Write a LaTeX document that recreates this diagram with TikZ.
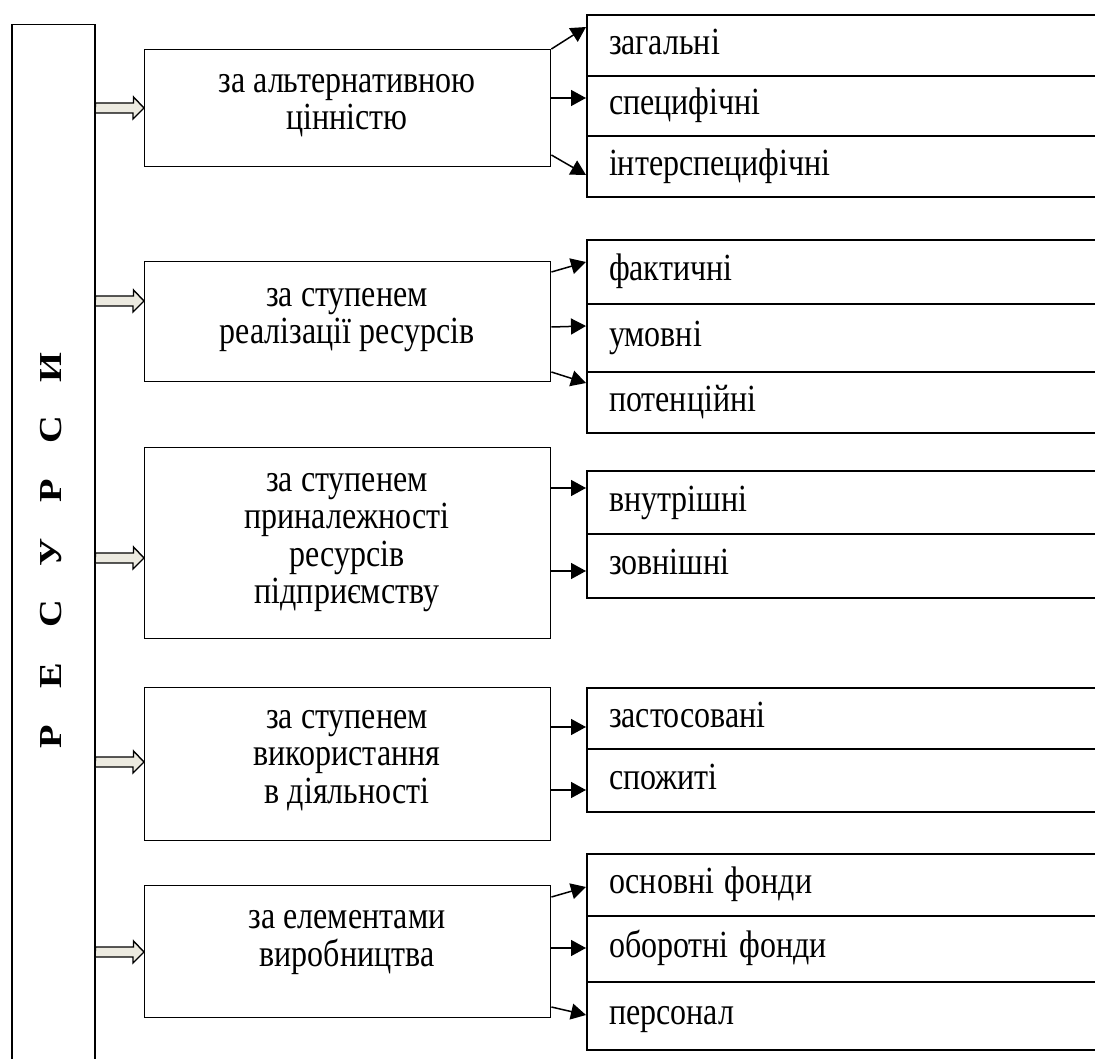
\documentclass[tikz,border=0pt]{standalone}
\usepackage{fontspec}
\usepackage{graphicx}
\setmainfont{Liberation Serif}
\usetikzlibrary{arrows.meta,calc}
\definecolor{arrfill}{RGB}{236,234,224}
\newcommand\hollowarrow[2]{%
  \draw[hollowarr] ($(res.east |- 0,#1)+(0,-5)$) -- ++(38,0) -- ++(0,-6)
    -- (#2.west |- 0,#1) -- ++(-11,11) -- ++(0,-6) -- ++(-38,0) -- cycle;}
\newcommand\tallt[1]{\scalebox{1}[1.2]{#1}}
\newcommand\tallblock[1]{\scalebox{1}[1.2]{\begin{tabular}{@{}c@{}}#1\end{tabular}}}
\newcommand\vlet[1]{\makebox[61.5pt]{\scalebox{1.2}[1]{#1}}}
\begin{document}
\begin{tikzpicture}[x=1pt,y=-1pt,
  mbox/.style={draw, line width=1.4pt, anchor=north west, minimum width=406pt, inner sep=0pt},
  mtext/.style={inner sep=0pt, font=\fontsize{32}{31}\selectfont},
  rbox/.style={draw, line width=2pt, anchor=north west, text width=476pt, inner xsep=22pt,
    inner ysep=0pt, align=left, text height=26pt, text depth=8.5pt, font=\fontsize{32}{37}\selectfont},
  blk/.style={line width=1.5pt, -{Triangle[length=15pt,width=16pt]}},
  hollowarr/.style={draw, line width=1.4pt, fill=arrfill, line join=miter},
]
\useasboundingbox (0,0) rectangle (1095,1059);

% left column
\node[draw, line width=1.5pt, anchor=north west, minimum width=83pt, minimum height=1100pt, inner sep=0pt] (res) at (11,24) {};
\node[rotate=90, font=\fontsize{32}{36}\selectfont\bfseries, inner sep=0pt] (reslabel) at (51.5,552.5)
  {\vlet{Р}\vlet{Е}\vlet{С}\vlet{У}\vlet{Р}\vlet{С}\vlet{И}};

% middle boxes
\node[mbox, minimum height=117pt] (b1) at (144,49) {};
\node[mbox, minimum height=120pt] (b2) at (144,261) {};
\node[mbox, minimum height=191pt] (b3) at (144,447) {};
\node[mbox, minimum height=153pt] (b4) at (144,687) {};
\node[mbox, minimum height=132pt] (b5) at (144,885) {};

\node[mtext] (t1) at (347,103.5) {\tallblock{за альтернативною\\цінністю}};
\node[mtext] (t2) at (347,317.5) {\tallblock{за ступенем\\реалізації ресурсів}};
\node[mtext] (t3) at (347,540) {\tallblock{за ступенем\\приналежності\\ресурсів\\підприємству}};
\node[mtext] (t4) at (347,758.5) {\tallblock{за ступенем\\використання\\в діяльності}};
\node[mtext] (t5) at (347,940) {\tallblock{за елементами\\виробництва}};

% right boxes
\node[rbox, minimum height=61pt] (r11) at (586,14) {\tallt{загальні}};
\node[rbox, minimum height=60pt] (r12) at (586,75) {\tallt{специфічні}};
\node[rbox, minimum height=61pt] (r13) at (586,135) {\tallt{інтерспецифічні}};
\node[rbox, minimum height=64pt] (r21) at (586,239) {\tallt{фактичні}};
\node[rbox, minimum height=68pt] (r22) at (586,303) {\tallt{умовні}};
\node[rbox, minimum height=61pt] (r23) at (586,371) {\tallt{потенційні}};
\node[rbox, minimum height=63pt] (r31) at (586,470) {\tallt{внутрішні}};
\node[rbox, minimum height=64pt] (r32) at (586,533) {\tallt{зовнішні}};
\node[rbox, minimum height=61pt] (r41) at (586,687) {\tallt{застосовані}};
\node[rbox, minimum height=63pt] (r42) at (586,748) {\tallt{спожиті}};
\node[rbox, minimum height=62pt] (r51) at (586,853) {\tallt{основні фонди}};
\node[rbox, minimum height=66pt] (r52) at (586,915) {\tallt{оборотні фонди}};
\node[rbox, minimum height=68pt] (r53) at (586,981) {\tallt{персонал}};

% hollow arrows
\hollowarrow{108}{b1}
\hollowarrow{301}{b2}
\hollowarrow{558}{b3}
\hollowarrow{762}{b4}
\hollowarrow{952}{b5}

% black arrows
\draw[blk] (b1.north east) -- (r11.west |- 0,27);
\draw[blk] (b1.east |- 0,98) -- (r12.west |- 0,98);
\draw[blk] (b1.east |- 0,155) -- (r13.west |- 0,175);
\draw[blk] (b2.east |- 0,272) -- (r21.west |- 0,262);
\draw[blk] (b2.east |- 0,327) -- (r22.west |- 0,326);
\draw[blk] (b2.east |- 0,372) -- (r23.west |- 0,383);
\draw[blk] (b3.east |- 0,488) -- (r31.west |- 0,488);
\draw[blk] (b3.east |- 0,571) -- (r32.west |- 0,571);
\draw[blk] (b4.east |- 0,727) -- (r41.west |- 0,727);
\draw[blk] (b4.east |- 0,790) -- (r42.west |- 0,790);
\draw[blk] (b5.east |- 0,897) -- (r51.west |- 0,887);
\draw[blk] (b5.east |- 0,948) -- (r52.west |- 0,948);
\draw[blk] (b5.east |- 0,1007) -- (r53.west |- 0,1015);
\end{tikzpicture}
\end{document}
